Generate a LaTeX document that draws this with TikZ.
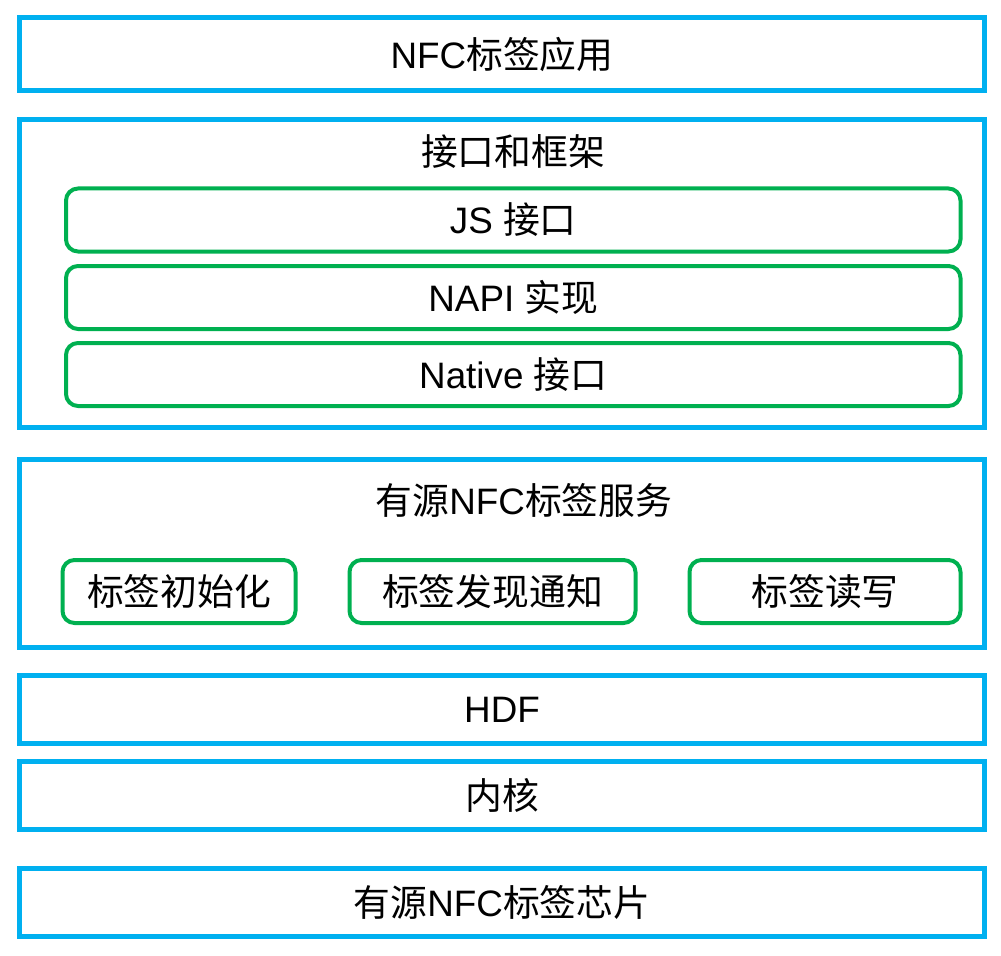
\documentclass[tikz,border=0pt]{standalone}
\usepackage{fontspec}
\setmainfont{Liberation Sans}
\newfontfamily\cjk{Noto Sans CJK SC}
\usepackage{xcolor}
\definecolor{layerblue}{HTML}{00B0F0}
\definecolor{modgreen}{HTML}{00B050}

\begin{document}
\begin{tikzpicture}[x=0.75pt,y=-0.75pt,
    every node/.style={font=\fontsize{27.6}{32}\selectfont,inner sep=0pt},
    layer/.style={draw=layerblue,line width=3.75pt,minimum width=965*0.75pt},
    module/.style={draw=modgreen,line width=3pt,rounded corners=9pt,minimum height=63*0.75pt}]
    \useasboundingbox (0,0) rectangle (1001,956);
    % layers
    \node[layer,minimum height=73.5*0.75pt]  (app)   at (502,54.25) {NFC{\cjk 标签应用}};
    \node[layer,minimum height=307.5*0.75pt] (frame) at (502,273.25) {};
    \node[layer,minimum height=188*0.75pt]   (svc)   at (502,553) {};
    \node[layer,minimum height=68*0.75pt]    (hdf)   at (502,709.5) {HDF};
    \node[layer,minimum height=68*0.75pt]    (kern)  at (502,795.5) {{\cjk 内核}};
    \node[layer,minimum height=68*0.75pt]    (chip)  at (502,902.5) {{\cjk 有源}NFC{\cjk 标签芯片}};
    % interface and framework
    \node (frametitle) at (513,152) {{\cjk 接口和框架}};
    \node[module,minimum width=894.5*0.75pt] (js)     at (513.25,220)   {JS {\cjk 接口}};
    \node[module,minimum width=894.5*0.75pt] (napi)   at (513.25,297.5) {NAPI {\cjk 实现}};
    \node[module,minimum width=894.5*0.75pt] (native) at (513.25,374.5) {Native {\cjk 接口}};
    % tag service
    \node (svctitle) at (524,500) {{\cjk 有源}NFC{\cjk 标签服务}};
    \node[module,minimum width=233*0.75pt] (init)     at (179,591.5)   {{\cjk 标签初始化}};
    \node[module,minimum width=286*0.75pt] (discover) at (492.5,591.5) {{\cjk 标签发现通知}};
    \node[module,minimum width=271*0.75pt] (rw)       at (825,591.5)   {{\cjk 标签读写}};
\end{tikzpicture}
\end{document}
